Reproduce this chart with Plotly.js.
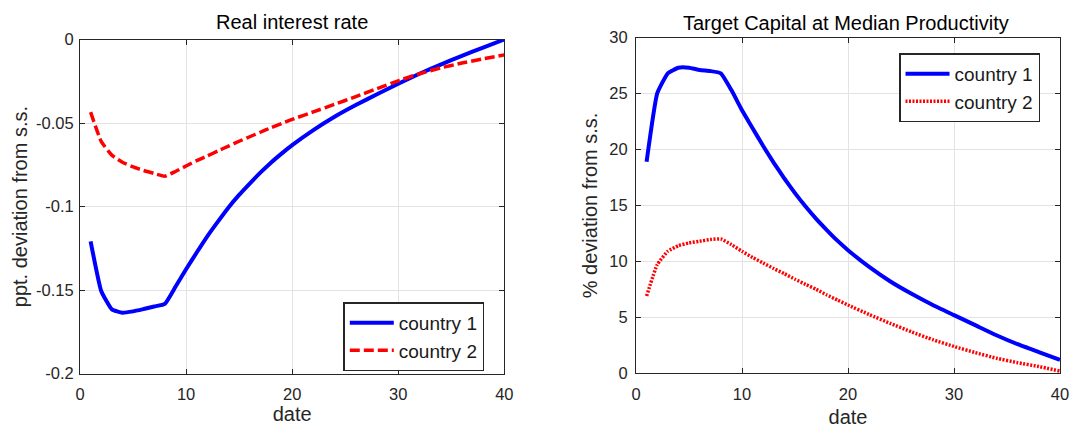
<!DOCTYPE html>
<html>
<head>
<meta charset="utf-8">
<script src="https://cdn.plot.ly/plotly-3.0.1.min.js"></script>
<style>html,body{margin:0;padding:0;background:#fff;}#chart{width:1071px;height:432px;}</style>
</head>
<body>
<div id="chart"></div>
<script>
// ---- data ----
const dates = [1,2,3,4,5,6,7,8,9,10,11,12,13,14,15,16,17,18,19,20,22,24,26,28,30,32,34,36,38,40];
const rateCountry1 = [-0.1208,-0.1505,-0.1615,-0.1635,-0.1627,-0.1613,-0.1598,-0.1582,-0.148,-0.1375,-0.1275,-0.1178,-0.109,-0.1005,-0.093,-0.0862,-0.0797,-0.0737,-0.0683,-0.0632,-0.0542,-0.0462,-0.0392,-0.0328,-0.0265,-0.0205,-0.015,-0.0098,-0.0048,0.0];
const rateCountry2 = [-0.0435,-0.061,-0.0692,-0.0735,-0.0762,-0.0784,-0.0802,-0.0818,-0.079,-0.0757,-0.0725,-0.0697,-0.0667,-0.0638,-0.0609,-0.0582,-0.0555,-0.0528,-0.0503,-0.0478,-0.0433,-0.0388,-0.0342,-0.0294,-0.0247,-0.0205,-0.017,-0.0141,-0.0116,-0.0092];
const capCountry1 = [18.9,25.0,26.8,27.3,27.3,27.1,27.0,26.8,25.3,23.5,21.9,20.3,18.8,17.4,16.1,14.9,13.8,12.8,11.85,11.0,9.5,8.2,7.1,6.1,5.2,4.3,3.4,2.6,1.9,1.2];
const capCountry2 = [6.9,9.7,10.9,11.4,11.65,11.8,11.95,12.0,11.5,10.9,10.35,9.85,9.35,8.9,8.4,7.95,7.5,7.0,6.55,6.1,5.25,4.45,3.7,3.0,2.4,1.85,1.35,0.95,0.6,0.2];
const seriesNames = ['country 1','country 2'];
const xTicks = [0,10,20,30,40];
const rateTickVals = [0,-0.05,-0.1,-0.15,-0.2];
const rateTickText = ['0','-0.05','-0.1','-0.15','-0.2'];
const capTickVals = [0,5,10,15,20,25,30];
const panelTitles = ['Real interest rate','Target Capital at Median Productivity'];
const yTitles = ['ppt. deviation from s.s.','% deviation from s.s.'];
const xTitle = 'date';

const FONT = 'Liberation Sans, Arial, sans-serif';
const TXT = '#262626';
const blue = '#0000ff', red = '#ff0000';
const W = 1071, H = 432;

const traces = [
  {x: dates, y: rateCountry1, name: seriesNames[0], type:'scatter', mode:'lines',
   line:{color:blue, width:4, shape:'spline', smoothing:0.4}, xaxis:'x', yaxis:'y', legend:'legend'},
  {x: dates, y: rateCountry2, name: seriesNames[1], type:'scatter', mode:'lines',
   line:{color:red, width:3.5, dash:'10px,4px', shape:'spline', smoothing:0.4}, xaxis:'x', yaxis:'y', legend:'legend'},
  {x: dates, y: capCountry1, name: seriesNames[0], type:'scatter', mode:'lines',
   line:{color:blue, width:4, shape:'spline', smoothing:0.4}, xaxis:'x2', yaxis:'y2', legend:'legend2'},
  {x: dates, y: capCountry2, name: seriesNames[1], type:'scatter', mode:'lines',
   line:{color:red, width:3.5, dash:'2px,1.5px', shape:'spline', smoothing:0.4}, xaxis:'x2', yaxis:'y2', legend:'legend2'}
];

const axBase = {
  showline:true, linecolor:TXT, linewidth:1, mirror:'ticks',
  ticks:'inside', ticklen:5, tickcolor:TXT, tickwidth:1,
  showgrid:true, gridcolor:'#e3e3e3', gridwidth:1, zeroline:false,
  tickfont:{family:FONT, size:16.5, color:TXT},
  fixedrange:true
};
function ax(extra){ return Object.assign({}, axBase, extra); }

const legBase = {
  bgcolor:'#ffffff', bordercolor:TXT, borderwidth:1.5,
  font:{family:FONT, size:19, color:'#1a1a1a'},
  xanchor:'left', yanchor:'top', tracegroupgap:0, itemwidth:44
};

const layout = {
  width:W, height:H,
  margin:{l:0, r:0, t:0, b:0},
  paper_bgcolor:'#ffffff', plot_bgcolor:'#ffffff',
  showlegend:true,
  xaxis: ax({domain:[80/W,504.3/W], range:[0,40], tickvals:xTicks, anchor:'y', ticklabelstandoff:5,
    title:{text:xTitle, font:{family:FONT, size:20, color:TXT}, standoff:5}}),
  yaxis: ax({domain:[1-373.7/H,1-39.5/H], range:[-0.2,0], tickvals:rateTickVals, ticktext:rateTickText, anchor:'x', ticklabelstandoff:2,
    title:{text:yTitles[0], font:{family:FONT, size:20, color:TXT}, standoff:3}}),
  xaxis2: ax({domain:[636/W,1060/W], range:[0,40], tickvals:xTicks, anchor:'y2', ticklabelstandoff:6,
    title:{text:xTitle, font:{family:FONT, size:20, color:TXT}, standoff:7}}),
  yaxis2: ax({domain:[1-373.3/H,1-37.5/H], range:[0,30], tickvals:capTickVals, anchor:'x2', ticklabelstandoff:4,
    title:{text:yTitles[1], font:{family:FONT, size:20, color:TXT}, standoff:6}}),
  legend: Object.assign({}, legBase, {x:343.3/W, y:1-302.3/H}),
  legend2: Object.assign({}, legBase, {x:899/W, y:1-53.3/H}),
  annotations:[
    {text:panelTitles[0], xref:'paper', yref:'paper', x:292.2/W, y:1-21.7/H,
     xanchor:'center', yanchor:'middle', showarrow:false, font:{family:FONT, size:20, color:'#000'}},
    {text:panelTitles[1], xref:'paper', yref:'paper', x:846/W, y:1-22.7/H,
     xanchor:'center', yanchor:'middle', showarrow:false, font:{family:FONT, size:20, color:'#000'}}
  ]
};

Plotly.newPlot('chart', traces, layout, {displayModeBar:false, staticPlot:true});
</script>
</body>
</html>
